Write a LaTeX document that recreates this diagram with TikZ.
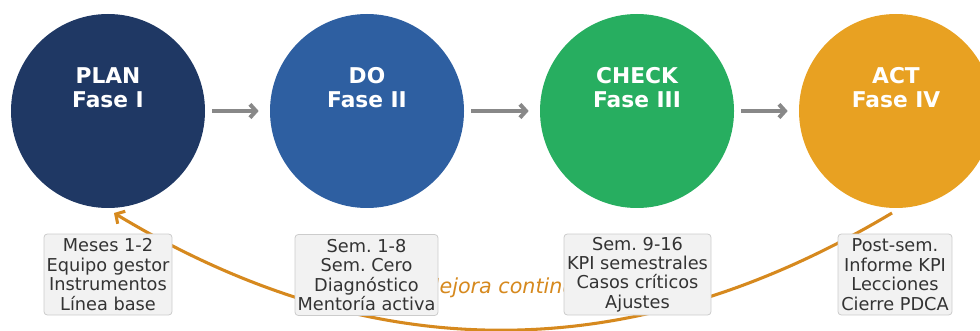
\documentclass[tikz,border=0pt]{standalone}
\usepackage{fontspec}
\setmainfont{DejaVu Sans}
\usetikzlibrary{arrows.meta,calc}
\definecolor{cplan}{HTML}{1F3864}
\definecolor{cdo}{HTML}{2E5FA1}
\definecolor{ccheck}{HTML}{27AE60}
\definecolor{cact}{HTML}{E8A122}
\definecolor{corange}{HTML}{D6891E}
\definecolor{cgrayarrow}{HTML}{888888}
\definecolor{cboxfill}{HTML}{F2F2F2}
\definecolor{cboxdraw}{HTML}{CCCCCC}
\definecolor{ctext}{HTML}{333333}
\tikzset{
  phase/.style={circle, draw=none, minimum size=145.5pt, inner sep=0pt, outer sep=0pt},
  phasetxt/.style={text=white, align=center, font=\bfseries\fontsize{16.3}{18}\selectfont, inner sep=0pt},
  infobox/.style={draw=cboxdraw, fill=cboxfill, rounded corners=2.5pt, line width=0.6pt,
    minimum height=60.75pt, inner sep=0pt, align=center, text=ctext,
    font=\fontsize{13.3}{14.6}\selectfont},
  flowarrow/.style={draw=cgrayarrow, line width=3pt,
    -{Straight Barb[length=4.5pt,width=10pt,line width=3pt]},
    shorten <=5.25pt, shorten >=8.5pt},
  looparrow/.style={draw=corange, line width=2.3pt,
    -{Straight Barb[length=5pt,width=11pt,line width=2.3pt]}},
  looplabel/.style={text=corange, font=\itshape\fontsize{15.5}{18}\selectfont, inner sep=0pt}
}
\begin{document}
\frenchspacing
\begin{tikzpicture}[x=0.75pt,y=-0.75pt]
\useasboundingbox (0,0) rectangle (980,331);
% circles
\node[phase, fill=cplan]  (plan)  at (108,111) {};
\node[phase, fill=cdo]    (do)    at (367,111) {};
\node[phase, fill=ccheck] (check) at (637,111) {};
\node[phase, fill=cact]   (act)   at (896,111) {};
\node[phasetxt] (plantxt)  at (108,88) {PLAN\\Fase I};
\node[phasetxt] (dotxt)    at (367,88) {DO\\Fase II};
\node[phasetxt] (checktxt) at (637,88) {CHECK\\Fase III};
\node[phasetxt] (acttxt)   at (896,88) {ACT\\Fase IV};
% flow arrows
\draw[flowarrow] (plan) -- (do);
\draw[flowarrow] (do) -- (check);
\draw[flowarrow] (check) -- (act);
% continuous improvement loop
\coordinate (loopstart) at ($(act.south)+(-4,5)$);
\coordinate (loopend) at ($(plan.south)+(6,5)$);
\draw[looparrow] (loopstart) .. controls (631,369) and (372,369) .. (loopend);
\node[looplabel, anchor=base] (looptxt) at (505,293) {Mejora continua};
% info boxes
\node[infobox, minimum width=96pt]    (box1) at (108,274.5) {Meses 1-2\\Equipo gestor\\Instrumentos\\Línea base};
\node[infobox, minimum width=107.25pt] (box2) at (366.5,275) {Sem. 1-8\\Sem. Cero\\Diagnóstico\\Mentoría activa};
\node[infobox, minimum width=110.25pt] (box3) at (637.5,274.5) {Sem. 9-16\\KPI semestrales\\Casos críticos\\Ajustes};
\node[infobox, minimum width=85.5pt]  (box4) at (895,274.5) {Post-sem.\\Informe KPI\\Lecciones\\Cierre PDCA};
\end{tikzpicture}
\end{document}
